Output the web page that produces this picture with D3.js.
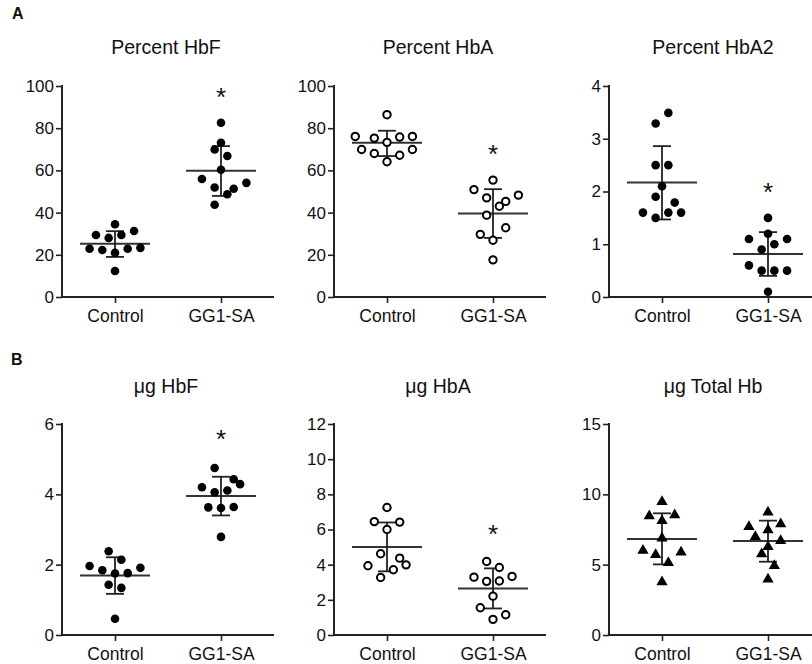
<!DOCTYPE html>
<html><head><meta charset="utf-8">
<script src="https://cdn.jsdelivr.net/npm/d3@7"></script>
<style>body{margin:0;background:#fff}svg{display:block}text{font-family:Arial,"Liberation Sans",sans-serif;fill:#111}</style>
</head><body>
<script>
const categories = ["Control", "GG1-SA"];
const titles = ["Percent HbF", "Percent HbA", "Percent HbA2", "μg HbF", "μg HbA", "μg Total Hb"];
const panelLetters = ["A", "B"];
const yMaxes = [100, 100, 4, 6, 12, 15];
const yTickSteps = [20, 20, 1, 2, 2, 5];
const markers = ["dot", "ring", "dot", "dot", "ring", "tri"];

// values and horizontal slot (column index in the scatter) per point
const hbfPctControl = [34.5, 29.4, 28.0, 29.4, 31.3, 22.9, 22.3, 20.9, 22.9, 23.3, 12.3];
const hbfPctControlSlot = [0, -3, -1, 1, 3, -4, -2, 0, 2, 4, 0];
const hbfPctGG1 = [82.6, 73.1, 69.9, 66.8, 60.3, 55.9, 54.1, 51.9, 51.3, 48.7, 43.7];
const hbfPctGG1Slot = [0, 0, -1, 1, 0, -3, 4, -1, 2, 1, -1];

const hbaPctControl = [86.4, 76.1, 75.3, 75.8, 76.1, 73.3, 69.9, 69.9, 68.0, 67.2, 64.1];
const hbaPctControlSlot = [0, -5, -2, 2, 4, 0, -4, 4, -2, 2, 0];
const hbaPctGG1 = [55.4, 50.9, 47.0, 48.3, 45.3, 43.0, 38.8, 32.8, 29.7, 26.9, 17.6];
const hbaPctGG1Slot = [0, -3, -1, 4, 2, 1, -1, 2, -2, 0, 0];

const hba2PctControl = [3.49, 3.29, 2.50, 2.50, 2.10, 1.90, 1.79, 1.60, 1.60, 1.60, 1.50];
const hba2PctControlSlot = [1, -1, -1, 1, 0, -1, 2, -3, 1, 3, -1];
const hba2PctGG1 = [1.50, 1.20, 1.10, 1.10, 1.00, 0.90, 0.60, 0.50, 0.50, 0.50, 0.10];
const hba2PctGG1Slot = [0, 0, -3, 3, 1, -1, -3, -1, 1, 3, 0];

const hbfUgControl = [2.38, 1.96, 2.14, 1.91, 1.84, 1.75, 1.76, 1.43, 1.34, 0.46];
const hbfUgControlSlot = [-1, -4, 1, 4, -2, 0, 2, -1, 1, 0];
const hbfUgGG1 = [4.75, 4.43, 4.29, 4.20, 4.06, 4.11, 3.63, 3.61, 3.64, 2.79];
const hbfUgGG1Slot = [-1, 2, 3, -3, -1, 1, -2, 0, 2, 0];

const hbaUgControl = [7.25, 6.45, 6.42, 6.00, 4.62, 4.37, 3.94, 3.99, 3.71, 3.27];
const hbaUgControlSlot = [0, -2, 2, 0, -1, 2, -3, 3, 1, -1];
const hbaUgGG1 = [4.18, 3.84, 3.29, 3.33, 3.05, 3.07, 2.21, 1.55, 1.15, 0.89];
const hbaUgGG1Slot = [-1, 1, -3, 3, -1, 1, 0, -2, 2, 0];

const totalUgControl = [9.48, 8.46, 8.53, 8.13, 6.87, 6.00, 5.71, 5.88, 5.14, 3.77];
const totalUgControlSlot = [0, -2, 2, 0, 0, -3, -1, 3, 1, 0];
const totalUgGG1 = [8.72, 7.70, 7.89, 7.46, 6.99, 6.70, 6.28, 5.76, 4.93, 3.96];
const totalUgGG1Slot = [0, -3, 2, 0, -2, 2, 0, -1, 1, 0];

// mean and SD limits: [Control, GG1-SA]
const means = [[25.2, 59.8], [73.1, 39.6], [2.17, 0.815], [1.69, 3.95], [5.0, 2.65], [6.82, 6.68]];
const sdHigh = [[31.2, 71.5], [78.8, 51.1], [2.86, 1.23], [2.21, 4.50], [6.4, 3.79], [8.65, 8.13]];
const sdLow = [[19.0, 47.9], [66.8, 28.0], [1.47, 0.40], [1.17, 3.40], [3.62, 1.51], [5.02, 5.21]];
// significance asterisk (value level on GG1-SA column), null = none
const asteriskAt = [97, 70, 2.08, 5.72, 6.04, null];

const seriesValues = [
  [hbfPctControl, hbfPctGG1], [hbaPctControl, hbaPctGG1], [hba2PctControl, hba2PctGG1],
  [hbfUgControl, hbfUgGG1], [hbaUgControl, hbaUgGG1], [totalUgControl, totalUgGG1]
];
const seriesSlots = [
  [hbfPctControlSlot, hbfPctGG1Slot], [hbaPctControlSlot, hbaPctGG1Slot], [hba2PctControlSlot, hba2PctGG1Slot],
  [hbfUgControlSlot, hbfUgGG1Slot], [hbaUgControlSlot, hbaUgGG1Slot], [totalUgControlSlot, totalUgGG1Slot]
];

const W = 812, H = 664;
const svg = d3.select("body").append("svg").attr("width", W).attr("height", H);

const panelX = [62, 334, 609];
const rowTop = [86, 424];
const rowBottom = [297, 635];
const axisLen = 212;
const slotScale = d3.scaleLinear().domain([-1, 1]).range([-6.35, 6.35]);

// panel letters
svg.append("text").attr("x", 12).attr("y", 19).attr("font-size", 16).attr("font-weight", "bold").text(panelLetters[0]);
svg.append("text").attr("x", 11).attr("y", 365).attr("font-size", 16).attr("font-weight", "bold").text(panelLetters[1]);

const triangle = d3.symbol().type(d3.symbolTriangle).size(55);

for (let p = 0; p < 6; p++) {
  const row = Math.floor(p / 3), col = p % 3;
  const g = svg.append("g").attr("transform", `translate(${panelX[col]},0)`);
  const x = d3.scalePoint().domain(categories).range([0, axisLen]).padding(0.5);
  const y = d3.scaleLinear().domain([0, yMaxes[p]]).range([rowBottom[row], rowTop[row]]);

  // title
  g.append("text").attr("x", (x(categories[0]) + x(categories[1])) / 2 - 2)
    .attr("y", row === 0 ? 54 : 393).attr("text-anchor", "middle").attr("font-size", 19.5).text(titles[p]);

  // y axis
  const ticks = d3.range(0, yMaxes[p] + 1e-9, yTickSteps[p]);
  const ya = g.append("g").call(d3.axisLeft(y).tickValues(ticks).tickSize(6).tickPadding(2).tickFormat(d3.format("d")));
  ya.select(".domain").attr("stroke", "#222").attr("stroke-width", 2).attr("d", `M0,${rowTop[row]-1}V${rowBottom[row]}`);
  ya.selectAll(".tick line").attr("stroke", "#222").attr("stroke-width", 1.6);
  ya.selectAll(".tick text").attr("font-size", 17).attr("fill", "#111").attr("font-family", "Arial, 'Liberation Sans', sans-serif");

  // x axis
  const xa = g.append("g").attr("transform", `translate(0,${rowBottom[row]})`)
    .call(d3.axisBottom(x).tickSize(6).tickPadding(7));
  xa.select(".domain").attr("stroke", "#222").attr("stroke-width", 2).attr("d", `M-1,0H${axisLen}`);
  xa.selectAll(".tick line").attr("stroke", "#222").attr("stroke-width", 1.6);
  xa.selectAll(".tick text").attr("font-size", 17.5).attr("fill", "#111").attr("font-family", "Arial, 'Liberation Sans', sans-serif");

  // points
  categories.forEach((c, ci) => {
    const vals = seriesValues[p][ci], slots = seriesSlots[p][ci];
    const pts = vals.map((v, i) => ({ v, s: slots[i] }));
    const cx = x(c);
    // mean line
    g.append("line").attr("x1", cx - 35).attr("x2", cx + 35)
      .attr("y1", y(means[p][ci])).attr("y2", y(means[p][ci]))
      .attr("stroke", "#333").attr("stroke-width", 2);
    // SD
    g.append("line").attr("x1", cx).attr("x2", cx).attr("y1", y(sdLow[p][ci])).attr("y2", y(sdHigh[p][ci]))
      .attr("stroke", "#222").attr("stroke-width", 1.8);
    [sdLow[p][ci], sdHigh[p][ci]].forEach(v => {
      g.append("line").attr("x1", cx - 9).attr("x2", cx + 9).attr("y1", y(v)).attr("y2", y(v))
        .attr("stroke", "#222").attr("stroke-width", 1.8);
    });
    const m = markers[p];
    if (m === "tri") {
      g.selectAll(null).data(pts).join("path").attr("d", triangle)
        .attr("transform", d => `translate(${cx + slotScale(d.s)},${y(d.v)})`).attr("fill", "#000");
    } else if (m === "ring") {
      g.selectAll(null).data(pts).join("circle")
        .attr("cx", d => cx + slotScale(d.s)).attr("cy", d => y(d.v)).attr("r", 3.7)
        .attr("fill", "#fff").attr("stroke", "#000").attr("stroke-width", 2);
    } else {
      g.selectAll(null).data(pts).join("circle")
        .attr("cx", d => cx + slotScale(d.s)).attr("cy", d => y(d.v)).attr("r", 4.3).attr("fill", "#000");
    }
  });

  if (asteriskAt[p] != null) {
    g.append("text").attr("x", x(categories[1])).attr("y", y(asteriskAt[p]) + 14)
      .attr("text-anchor", "middle").attr("font-size", 26).text("*");
  }
}
</script>
</body></html>
